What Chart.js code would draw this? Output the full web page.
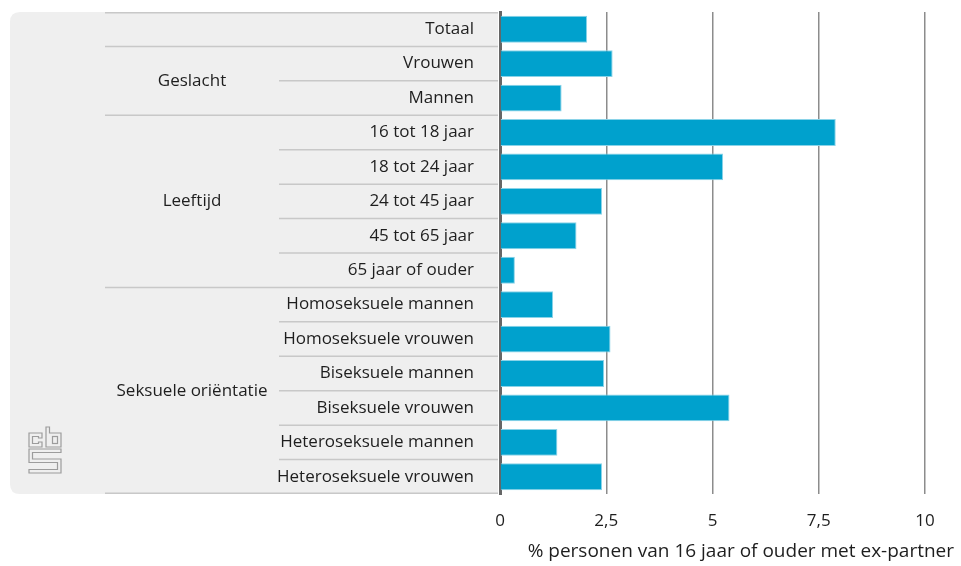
<!DOCTYPE html>
<html>
<head>
<meta charset="utf-8">
<script src="https://cdn.jsdelivr.net/npm/chart.js@4/dist/chart.umd.min.js"></script>
<style>
    body { margin: 0; background: #fff; }
    #wrap { width: 961px; height: 566px; }
</style>
</head>
<body>
<div id="wrap"><canvas id="chart" width="961" height="566"></canvas></div>
<script>
const categories = [
    'Totaal',
    'Vrouwen', 'Mannen',
    '16 tot 18 jaar', '18 tot 24 jaar', '24 tot 45 jaar', '45 tot 65 jaar', '65 jaar of ouder',
    'Homoseksuele mannen', 'Homoseksuele vrouwen', 'Biseksuele mannen', 'Biseksuele vrouwen',
    'Heteroseksuele mannen', 'Heteroseksuele vrouwen'
];
const values = [2.05, 2.65, 1.45, 7.9, 5.25, 2.4, 1.8, 0.35, 1.25, 2.6, 2.45, 5.4, 1.35, 2.4];

// groups: label + how many categories belong to it
const groupLabels = ['', 'Geslacht', 'Leeftijd', 'Seksuele oriëntatie'];
const groupSizes = [1, 2, 5, 6];

const xTicks = [0, 2.5, 5, 7.5, 10];
const xTitle = '% personen van 16 jaar of ouder met ex-partner';

const FONT = '"Open Sans", sans-serif';
const TEXT = '#1e1e1e';

// grey side panel, row separators, group labels, logo
const panelPlugin = {
    id: 'panel',
    beforeDraw(chart) {
        const { ctx, chartArea } = chart;
        const left = 10, right = chartArea.left - 2, top = chartArea.top, bottom = chartArea.bottom, r = 10;
        ctx.save();
        ctx.fillStyle = '#efefef';
        ctx.beginPath();
        ctx.moveTo(left + r, top);
        ctx.lineTo(right, top);
        ctx.lineTo(right, bottom);
        ctx.lineTo(left + r, bottom);
        ctx.quadraticCurveTo(left, bottom, left, bottom - r);
        ctx.lineTo(left, top + r);
        ctx.quadraticCurveTo(left, top, left + r, top);
        ctx.fill();

        const y = chart.scales.y;
        const groupX = 105, catX = 279;
        const groupStarts = [];
        let n = 0;
        groupSizes.forEach(s => { groupStarts.push(n); n += s; });

        ctx.strokeStyle = '#c8c8c8';
        ctx.lineWidth = 1.5;
        const line = (x0, yy) => {
            ctx.beginPath();
            ctx.moveTo(x0, yy);
            ctx.lineTo(right, yy);
            ctx.stroke();
        };
        line(groupX, top + 0.75);
        line(groupX, bottom - 0.75);
        for (let i = 1; i < categories.length; i++) {
            const yy = (y.getPixelForValue(i - 1) + y.getPixelForValue(i)) / 2;
            line(groupStarts.includes(i) ? groupX : catX, yy);
        }

        ctx.fillStyle = TEXT;
        ctx.font = '17px ' + FONT;
        ctx.textAlign = 'center';
        ctx.textBaseline = 'middle';
        groupLabels.forEach((g, k) => {
            if (!g) return;
            const first = groupStarts[k], last = first + groupSizes[k] - 1;
            const cy = (y.getPixelForValue(first) + y.getPixelForValue(last)) / 2;
            ctx.fillText(g, 192, cy);
        });

        // cbs logo
        ctx.strokeStyle = '#9c9c9c';
        ctx.lineWidth = 1.2;
        const poly = pts => {
            ctx.beginPath();
            pts.forEach((p, i) => i ? ctx.lineTo(p[0], p[1]) : ctx.moveTo(p[0], p[1]));
            ctx.closePath();
            ctx.stroke();
        };
        poly([[42, 438], [42, 433], [29, 433], [29, 447], [42, 447], [42, 442], [38.5, 442], [38.5, 443.5],
            [32.5, 443.5], [32.5, 436.5], [38.5, 436.5], [38.5, 438]]);
        poly([[46, 427], [49.5, 427], [49.5, 433], [61, 433], [61, 447], [46, 447]]);
        ctx.strokeRect(52.5, 436.5, 5, 7);
        poly([[61, 449], [29, 449], [29, 462.5], [57.5, 462.5], [57.5, 469.5], [29, 469.5], [29, 473],
            [61, 473], [61, 459], [32.5, 459], [32.5, 452.5], [61, 452.5]]);
        ctx.restore();
    },
    afterDraw(chart) {
        const { ctx } = chart;
        ctx.save();
        ctx.fillStyle = TEXT;
        ctx.font = '19px ' + FONT;
        ctx.textAlign = 'right';
        ctx.textBaseline = 'alphabetic';
        ctx.fillText(xTitle, 954, 557);
        ctx.restore();
    }
};

const chartCtx = document.getElementById('chart').getContext('2d');

new Chart(chartCtx, {
    type: 'bar',
    data: {
        labels: categories,
        datasets: [{
            data: values,
            backgroundColor: '#00a1cd',
            borderColor: '#8ad3e8',
            borderWidth: 1,
            barPercentage: 0.78,
            categoryPercentage: 1
        }]
    },
    options: {
        indexAxis: 'y',
        responsive: false,
        animation: false,
        layout: { padding: { top: 12, right: 36, left: 0, bottom: 0 } },
        plugins: {
            legend: { display: false },
            tooltip: { enabled: false }
        },
        scales: {
            x: {
                min: 0,
                max: 10,
                afterBuildTicks: scale => { scale.ticks = xTicks.map(v => ({ value: v })); },
                ticks: {
                    callback: v => String(v).replace('.', ','),
                    font: { family: FONT, size: 17 },
                    color: TEXT,
                    padding: 17
                },
                grid: {
                    color: c => c.tick && c.tick.value === 0 ? 'rgba(0,0,0,0)' : '#8c8c8c',
                    lineWidth: 1.5,
                    drawTicks: false
                },
                border: { display: false },
                afterFit: scale => { scale.height = 72; }
            },
            y: {
                ticks: {
                    font: { family: FONT, size: 17 },
                    color: TEXT,
                    padding: 26
                },
                grid: { display: false, drawTicks: false },
                border: { display: true, color: '#666', width: 3 },
                afterFit: scale => {
                    scale.width = 500;
                    scale.paddingTop = 0;
                    scale.paddingBottom = 0;
                }
            }
        }
    },
    plugins: [panelPlugin]
});
</script>
</body>
</html>
